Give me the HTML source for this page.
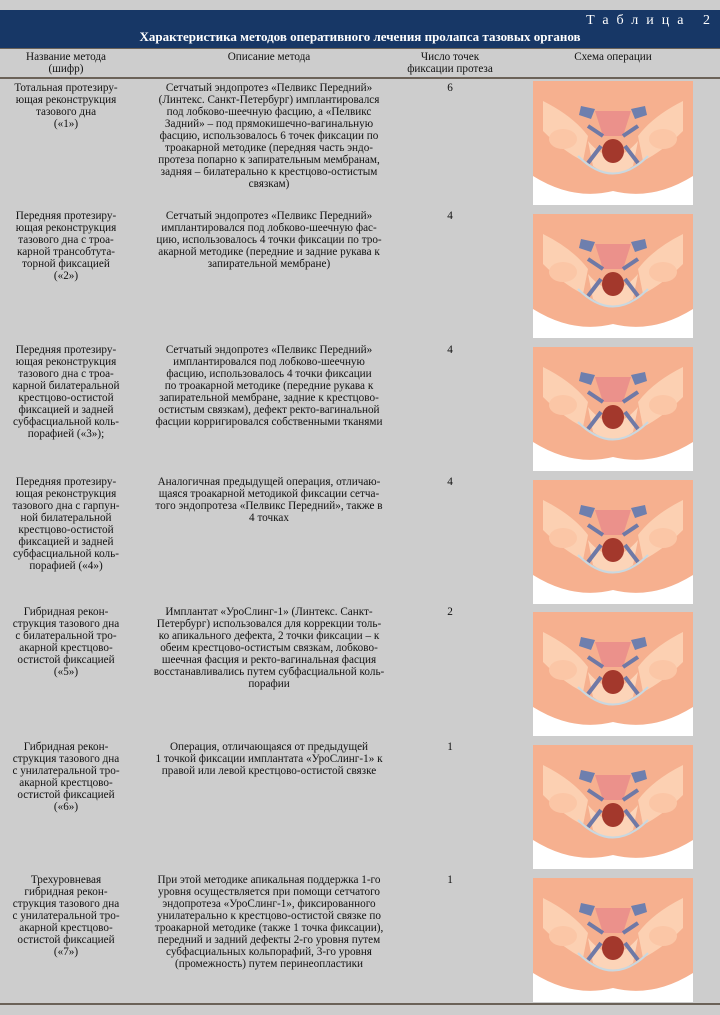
<!DOCTYPE html>
<html><head><meta charset="utf-8"><style>
body{margin:0;width:720px;height:1015px;background:#cdcdcd;position:relative;overflow:hidden;font-family:"Liberation Serif",serif;color:#111}
.hd{position:absolute;left:0;top:10px;width:720px;height:38px;background:#173766;color:#fff}
.t{position:absolute;font-size:11.2px;line-height:12px;text-align:center}
.c1{left:0px;width:132px}.c2{left:136px;width:266px}.c3{left:410px;width:80px}
.img{position:absolute;left:533px;width:160px;height:124px}
.ln{position:absolute;left:0;width:720px;height:2px;background:#6b6258}
</style></head><body>
<svg width="0" height="0" style="position:absolute"><defs>
<symbol id="p" viewBox="0 0 160 124">
<rect width="160" height="124" fill="#f6b08f"/>
<path d="M0 95 Q40 120 80 110 Q120 120 160 95 L160 124 L0 124Z" fill="#fff"/>
<path d="M10 20 Q40 35 55 55 L50 80 Q30 70 10 50Z M150 20 Q120 35 105 55 L110 80 Q130 70 150 50Z" fill="#fcd0b2"/>
<ellipse cx="30" cy="58" rx="14" ry="10" fill="#fbc6a6"/><ellipse cx="130" cy="58" rx="14" ry="10" fill="#fbc6a6"/>
<path d="M55 60 Q80 90 105 60 L100 85 Q80 100 60 85Z" fill="#fcd4b8"/>
<path d="M62 30 L98 30 L90 55 L70 55Z" fill="#e98a8a" opacity=".8"/>
<path d="M48 25 L62 28 L58 38 L46 34Z M112 25 L98 28 L102 38 L114 34Z" fill="#6e7fae"/>
<path d="M55 45 L70 55 M105 45 L90 55 M55 82 L68 65 M105 82 L92 65" stroke="#6f79a6" stroke-width="4"/>
<ellipse cx="80" cy="70" rx="11" ry="12" fill="#a3382c"/>
<path d="M45 75 Q80 110 115 75" stroke="#c9d8e0" stroke-width="2" fill="none"/>
</symbol></defs></svg>
<div class="hd">
<div style="position:absolute;right:2px;top:3px;font-size:14px;letter-spacing:8px">Таблица 2</div>
<div style="position:absolute;left:0;width:720px;top:19px;text-align:center;font-size:13px;font-weight:bold">Характеристика методов оперативного лечения пролапса тазовых органов</div>
</div>
<div class="ln" style="top:48px;height:1px"></div>
<div class="t c1" style="top:51px">Название метода<br>(шифр)</div>
<div class="t c2" style="top:51px">Описание метода</div>
<div class="t c3" style="top:51px;left:400px;width:100px">Число точек<br>фиксации протеза</div>
<div class="t" style="top:51px;left:533px;width:160px">Схема операции</div>
<div class="ln" style="top:77px"></div>

<div class="t c1" style="top:82px">Тотальная протезиру-<br>ющая реконструкция<br>тазового дна<br>(«1»)</div>
<div class="t c2" style="top:82px">Сетчатый эндопротез «Пелвикс Передний»<br>(Линтекс. Санкт-Петербург) имплантировался<br>под лобково-шеечную фасцию, а «Пелвикс<br>Задний» – под прямокишечно-вагинальную<br>фасцию, использовалось 6 точек фиксации по<br>троакарной методике (передняя часть эндо-<br>протеза попарно к запирательным мембранам,<br>задняя – билатерально к крестцово-остистым<br>связкам)</div>
<div class="t c3" style="top:82px">6</div>
<svg class="img" style="top:81px"><use href="#p"/></svg>

<div class="t c1" style="top:210px">Передняя протезиру-<br>ющая реконструкция<br>тазового дна с троа-<br>карной трансобтута-<br>торной фиксацией<br>(«2»)</div>
<div class="t c2" style="top:210px">Сетчатый эндопротез «Пелвикс Передний»<br>имплантировался под лобково-шеечную фас-<br>цию, использовалось 4 точки фиксации по тро-<br>акарной методике (передние и задние рукава к<br>запирательной мембране)</div>
<div class="t c3" style="top:210px">4</div>
<svg class="img" style="top:214px"><use href="#p"/></svg>

<div class="t c1" style="top:344px">Передняя протезиру-<br>ющая реконструкция<br>тазового дна с троа-<br>карной билатеральной<br>крестцово-остистой<br>фиксацией и задней<br>субфасциальной коль-<br>порафией («3»);</div>
<div class="t c2" style="top:344px">Сетчатый эндопротез «Пелвикс Передний»<br>имплантировался под лобково-шеечную<br>фасцию, использовалось 4 точки фиксации<br>по троакарной методике (передние рукава к<br>запирательной мембране, задние к крестцово-<br>остистым связкам), дефект ректо-вагинальной<br>фасции корригировался собственными тканями</div>
<div class="t c3" style="top:344px">4</div>
<svg class="img" style="top:347px"><use href="#p"/></svg>

<div class="t c1" style="top:476px">Передняя протезиру-<br>ющая реконструкция<br>тазового дна с гарпун-<br>ной билатеральной<br>крестцово-остистой<br>фиксацией и задней<br>субфасциальной коль-<br>порафией («4»)</div>
<div class="t c2" style="top:476px">Аналогичная предыдущей операция, отличаю-<br>щаяся троакарной методикой фиксации сетча-<br>того эндопротеза «Пелвикс Передний», также в<br>4 точках</div>
<div class="t c3" style="top:476px">4</div>
<svg class="img" style="top:480px"><use href="#p"/></svg>

<div class="t c1" style="top:606px">Гибридная рекон-<br>струкция тазового дна<br>с билатеральной тро-<br>акарной крестцово-<br>остистой фиксацией<br>(«5»)</div>
<div class="t c2" style="top:606px">Имплантат «УроСлинг-1» (Линтекс. Санкт-<br>Петербург) использовался для коррекции толь-<br>ко апикального дефекта, 2 точки фиксации – к<br>обеим крестцово-остистым связкам, лобково-<br>шеечная фасция и ректо-вагинальная фасция<br>восстанавливались путем субфасциальной коль-<br>порафии</div>
<div class="t c3" style="top:606px">2</div>
<svg class="img" style="top:612px"><use href="#p"/></svg>

<div class="t c1" style="top:741px">Гибридная рекон-<br>струкция тазового дна<br>с унилатеральной тро-<br>акарной крестцово-<br>остистой фиксацией<br>(«6»)</div>
<div class="t c2" style="top:741px">Операция, отличающаяся от предыдущей<br>1 точкой фиксации имплантата «УроСлинг-1» к<br>правой или левой крестцово-остистой связке</div>
<div class="t c3" style="top:741px">1</div>
<svg class="img" style="top:745px"><use href="#p"/></svg>

<div class="t c1" style="top:874px">Трехуровневая<br>гибридная рекон-<br>струкция тазового дна<br>с унилатеральной тро-<br>акарной крестцово-<br>остистой фиксацией<br>(«7»)</div>
<div class="t c2" style="top:874px">При этой методике апикальная поддержка 1-го<br>уровня осуществляется при помощи сетчатого<br>эндопротеза «УроСлинг-1», фиксированного<br>унилатерально к крестцово-остистой связке по<br>троакарной методике (также 1 точка фиксации),<br>передний и задний дефекты 2-го уровня путем<br>субфасциальных кольпорафий, 3-го уровня<br>(промежность) путем перинеопластики</div>
<div class="t c3" style="top:874px">1</div>
<svg class="img" style="top:878px"><use href="#p"/></svg>

<div class="ln" style="top:1003px"></div>
</body></html>
